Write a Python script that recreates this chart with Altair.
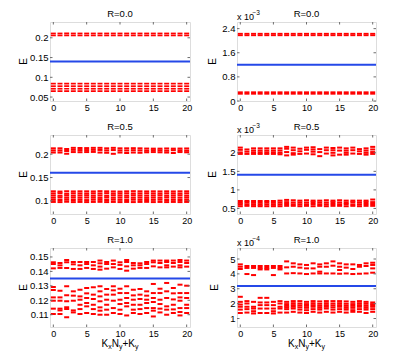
import altair as alt
import pandas as pd

FONT = "Liberation Sans, Arial, Helvetica, sans-serif"
RED = "#ff0000"
BLUE_C = "#2548e8"
FRAME = "#6e6e6e"

K = list(range(21))
XTICKS = [0, 5, 10, 15, 20]

# Panel 1 (R=0.0): same levels at every k
P1_LEVELS = [0.211, 0.206, 0.084, 0.0775, 0.071, 0.065]
# Panel 2 (R=0.0), units of 1e-3
P2_LEVELS = [2.23, 2.18, 0.29, 0.24]

# Panel 3 (R=0.5): rows of levels across k
P3_ROWS = [
    [0.2125,0.2125,0.2112,0.2135,0.2132,0.2130,0.2135,0.2135,0.2125,0.2135,0.2125,0.2125,0.2128,0.2125,0.2120,0.2118,0.2118,0.2122,0.2118,0.2120,0.2122],
    [0.2080,0.2080,0.2068,0.2092,0.2088,0.2088,0.2092,0.2090,0.2080,0.2088,0.2080,0.2078,0.2085,0.2080,0.2075,0.2085,0.2080,0.2075,0.2085,0.2080,0.2075],
    [0.2035,0.2035,0.2010,0.2045,0.2042,0.2045,0.2048,0.2035,0.2030,0.2008,0.2035,0.2025,0.2035,0.2030,0.2040,0.2045,0.2040,0.2035,0.2025,0.2045,0.2040],
    [0.1205,0.1200,0.1208,0.1203,0.1205,0.1205,0.1203,0.1208,0.1205,0.1203,0.1200,0.1205,0.1208,0.1205,0.1203,0.1205,0.1203,0.1205,0.1203,0.1205,0.1205],
    [0.1160,0.1165,0.1155,0.1162,0.1160,0.1158,0.1162,0.1160,0.1165,0.1158,0.1160,0.1162,0.1158,0.1160,0.1162,0.1160,0.1158,0.1162,0.1160,0.1158,0.1162],
    [0.1115,0.1110,0.1118,0.1112,0.1115,0.1118,0.1112,0.1115,0.1110,0.1118,0.1115,0.1112,0.1118,0.1115,0.1112,0.1115,0.1118,0.1112,0.1115,0.1118,0.1112],
    [0.1068,0.1072,0.1065,0.1070,0.1068,0.1072,0.1070,0.1065,0.1072,0.1068,0.1070,0.1072,0.1068,0.1070,0.1065,0.1070,0.1068,0.1072,0.1070,0.1068,0.1070],
    [0.1022,0.1020,0.1025,0.1020,0.1022,0.1018,0.1025,0.1022,0.1020,0.1025,0.1022,0.1020,0.1025,0.1022,0.1020,0.1022,0.1025,0.1020,0.1022,0.1020,0.1022],
    [0.0978,0.0975,0.0980,0.0975,0.0978,0.0975,0.0978,0.0980,0.0975,0.0978,0.0975,0.0978,0.0975,0.0978,0.0980,0.0975,0.0978,0.0975,0.0978,0.0975,0.0978],
]

# Panel 4 (R=0.5), units of 1e-3: upper levels per k, lower rows across k
P4_TOP = [
    [2.14,2.08,2.01,1.97],[2.09,2.03,1.97],[2.12,2.06,2.01,1.97],[2.12,2.06,2.01,1.97],
    [2.12,2.06,2.01,1.97],[2.12,2.06,2.01,1.97],[2.12,2.06,2.00,1.96],[2.16,2.11,2.02,1.93],
    [2.14,2.07,1.99,1.95],[2.11,2.04,1.97],[2.14,2.08,1.98],[2.15,2.09,2.03,1.96],
    [2.10,2.02,1.91],[2.14,2.07,1.98],[2.13,2.07,2.00,1.93],[2.14,2.06,1.95],
    [2.12,2.06,2.00,1.95],[2.14,2.07,1.98],[2.10,2.04,1.97],[2.12,2.06,2.00,1.95],
    [2.16,2.09,2.02,1.97],
]
P4_BOTTOM_ROWS = [
    [0.70,0.70,0.70,0.70,0.70,0.70,0.71,0.73,0.72,0.71,0.72,0.71,0.71,0.72,0.71,0.72,0.71,0.71,0.71,0.71,0.74],
    [0.65,0.66,0.65,0.65,0.66,0.65,0.66,0.67,0.66,0.66,0.66,0.67,0.66,0.66,0.67,0.66,0.66,0.67,0.66,0.67,0.67],
    [0.61,0.61,0.60,0.60,0.61,0.60,0.61,0.62,0.61,0.61,0.61,0.62,0.61,0.61,0.62,0.61,0.62,0.61,0.61,0.62,0.62],
    [0.56,0.57,0.56,0.56,0.56,0.56,0.56,0.57,0.57,0.56,0.57,0.56,0.57,0.56,0.57,0.57,0.56,0.57,0.56,0.57,0.57],
]

# Panel 5 (R=1.0): levels per k
P5 = [
    [0.1463,0.1451,0.1421,0.1292,0.1271,0.1220,0.1197,0.1142,0.1105],
    [0.1458,0.1442,0.1424,0.1266,0.1220,0.1197,0.1142,0.1130,0.1105],
    [0.1479,0.1463,0.1424,0.1297,0.1234,0.1193,0.1151,0.1139,0.1082],
    [0.1465,0.1449,0.1417,0.1262,0.1232,0.1197,0.1130,0.1116],
    [0.1465,0.1442,0.1417,0.1273,0.1227,0.1204,0.1169,0.1139,0.1105],
    [0.1465,0.1451,0.1424,0.1285,0.1248,0.1216,0.1181,0.1158,0.1112],
    [0.1465,0.1442,0.1417,0.1290,0.1239,0.1209,0.1169,0.1139,0.1105],
    [0.1475,0.1456,0.1433,0.1412,0.1297,0.1262,0.1227,0.1193,0.1151,0.1128,0.1100],
    [0.1465,0.1451,0.1419,0.1278,0.1239,0.1204,0.1169,0.1135,0.1100],
    [0.1475,0.1451,0.1428,0.1297,0.1269,0.1239,0.1197,0.1146,0.1112],
    [0.1463,0.1445,0.1417,0.1280,0.1250,0.1204,0.1174,0.1135,0.1105],
    [0.1479,0.1465,0.1435,0.1405,0.1297,0.1250,0.1216,0.1181,0.1158,0.1095],
    [0.1458,0.1442,0.1419,0.1273,0.1234,0.1204,0.1169,0.1135,0.1112],
    [0.1456,0.1442,0.1424,0.1278,0.1239,0.1209,0.1169,0.1139,0.1105],
    [0.1465,0.1451,0.1424,0.1262,0.1232,0.1204,0.1181,0.1146,0.1112],
    [0.1475,0.1463,0.1435,0.1313,0.1250,0.1216,0.1188,0.1146,0.1128,0.1088],
    [0.1475,0.1458,0.1428,0.1280,0.1250,0.1204,0.1174,0.1142,0.1116],
    [0.1475,0.1465,0.1442,0.1428,0.1320,0.1262,0.1216,0.1158,0.1135,0.1100],
    [0.1475,0.1458,0.1433,0.1285,0.1248,0.1206,0.1169,0.1137,0.1112],
    [0.1479,0.1465,0.1442,0.1428,0.1308,0.1250,0.1220,0.1197,0.1146,0.1119,0.1095],
    [0.1475,0.1458,0.1433,0.1301,0.1250,0.1216,0.1169,0.1146,0.1112],
]

# Panel 6 (R=1.0), units of 1e-4: levels per k
P6 = [
    [4.64,4.48,4.33,2.46,2.12,1.94,1.79,1.60,1.37],
    [4.53,4.40,3.99,2.17,2.01,1.79,1.63,1.40],
    [4.53,4.40,3.92,2.12,1.79,1.67,1.49,1.34],
    [4.53,4.40,4.30,2.39,2.08,1.90,1.67,1.37],
    [4.53,4.40,4.30,2.39,2.08,1.90,1.67,1.37],
    [4.53,4.40,3.92,2.12,1.90,1.67,1.49,1.34],
    [4.53,4.40,4.30,2.17,2.01,1.79,1.67,1.40],
    [4.84,4.44,4.03,2.12,1.97,1.85,1.75,1.63,1.40],
    [4.71,4.48,4.05,2.17,2.03,1.90,1.79,1.67,1.45],
    [4.64,4.42,4.03,2.17,2.01,1.88,1.75,1.60,1.40],
    [4.60,4.37,3.99,2.12,1.97,1.85,1.72,1.56,1.37],
    [4.71,4.37,4.03,2.17,2.03,1.90,1.79,1.63,1.45],
    [4.64,4.48,4.15,4.03,2.15,1.99,1.85,1.72,1.60,1.40],
    [4.71,4.48,4.03,2.17,2.03,1.90,1.79,1.67,1.45],
    [4.84,4.55,4.03,2.17,2.01,1.88,1.75,1.60,1.40],
    [4.71,4.48,4.26,4.01,2.17,2.03,1.90,1.79,1.63,1.45],
    [4.64,4.42,4.03,2.15,1.99,1.85,1.72,1.60,1.40],
    [4.64,4.33,3.99,2.12,1.97,1.85,1.72,1.56,1.45],
    [4.60,4.48,4.01,2.17,2.03,1.90,1.79,1.63,1.45],
    [4.71,4.53,4.03,2.12,1.99,1.85,1.72,1.60,1.37],
    [4.75,4.60,4.37,4.08,2.08,1.97,1.88,1.79,1.63,1.45],
]

BLUE = [0.14, 1.2, 0.16, 1.41, 0.135, 3.18]
DOMAINS = [[0.04, 0.24], [0, 2.62], [0.072, 0.241], [0.35, 2.48], [0.1015, 0.1562], [0.43, 5.74]]
YTICKS = [[0.05, 0.1, 0.15, 0.2], [0, 0.8, 1.6, 2.4], [0.1, 0.15, 0.2],
          [0.5, 1, 1.5, 2], [0.11, 0.12, 0.13, 0.14, 0.15], [1, 2, 3, 4, 5]]
TITLES = ["R=0.0", "R=0.0", "R=0.5", "R=0.5", "R=1.0", "R=1.0"]
MULT = [None, "\u22123", None, "\u22123", None, "\u22124"]
ELABEL_X = [-26.3, -24, -26.3, -24, -26.3, -22]
THICK = [1.7, 1.8, 2, 2, 2, 2]


def frame(per_k):
    rows = []
    for k, vals in zip(K, per_k):
        for v in vals:
            rows.append({"k": k, "E": v})
    return pd.DataFrame(rows)


def from_rows(rowlist):
    return [[r[k] for r in rowlist] for k in K]


DATA = [
    frame([P1_LEVELS for _ in K]),
    frame([P2_LEVELS for _ in K]),
    frame(from_rows(P3_ROWS)),
    frame([t + b for t, b in zip(P4_TOP, from_rows(P4_BOTTOM_ROWS))]),
    frame(P5),
    frame(P6),
]

H = 79


def txt(t, x, y, size=9.5, align="left", baseline="middle", angle=0):
    return alt.Chart(pd.DataFrame({"t": [t]})).mark_text(
        align=align, baseline=baseline, fontSize=size, font=FONT, color="black", angle=angle
    ).encode(x=alt.value(x), y=alt.value(y), text="t:N")


def panel(i):
    w = 140 if i % 2 == 0 else 139
    xs = alt.X("k:Q", scale=alt.Scale(domain=[-0.5, 20.5], nice=False, zero=False),
               axis=alt.Axis(values=XTICKS, title=None, grid=False, ticks=False, domain=False,
                             labelPadding=2.5, labelFontSize=9, labelFont=FONT, labelColor="black",
                             labelFlush=False, labelOverlap=False))
    ys = alt.Y("E:Q", scale=alt.Scale(domain=DOMAINS[i], nice=False, zero=False),
               axis=alt.Axis(values=YTICKS[i], format="~g", title=None, grid=False, ticks=False,
                             domain=False, labelPadding=2, labelFontSize=9.5, labelFont=FONT,
                             labelColor="black", labelFlush=False, labelOverlap=False))
    dashes = alt.Chart(DATA[i]).mark_tick(
        orient="horizontal", color=RED, size=5, thickness=THICK[i], opacity=1
    ).encode(x=xs, y=ys)
    blue = alt.Chart(pd.DataFrame({"E": [BLUE[i]]})).mark_rule(
        color=BLUE_C, strokeWidth=2
    ).encode(y=ys)
    xt = pd.DataFrame({"k": XTICKS})
    yt = pd.DataFrame({"E": YTICKS[i]})
    tb = alt.Chart(xt).mark_rule(color=FRAME, strokeWidth=1).encode(x=xs, y=alt.value(H), y2=alt.value(H - 2.5))
    tt = alt.Chart(xt).mark_rule(color=FRAME, strokeWidth=1).encode(x=xs, y=alt.value(0), y2=alt.value(2.5))
    tl = alt.Chart(yt).mark_rule(color=FRAME, strokeWidth=1).encode(y=ys, x=alt.value(0), x2=alt.value(2.5))
    tr = alt.Chart(yt).mark_rule(color=FRAME, strokeWidth=1).encode(y=ys, x=alt.value(w), x2=alt.value(w - 2.5))
    layers = [dashes, blue, tb, tt, tl, tr,
              txt(TITLES[i], w / 2, -13.5, size=9.5, align="center", baseline="top"),
              txt("E", ELABEL_X[i], H / 2, size=10, align="center", angle=270)]
    if MULT[i]:
        layers.append(txt("x 10", 0, -5.5, size=9))
        layers.append(txt(MULT[i], 15.5, -9.5, size=6.5))
    if i >= 4:
        c = w / 2
        x0 = c - 18.5
        yb = H + 17.2
        ys_ = yb + 3
        layers += [
            txt("K", x0, yb, size=10),
            txt("x", x0 + 6.7, ys_, size=7),
            txt("N", x0 + 10.2, yb, size=10),
            txt("y", x0 + 17.4, ys_, size=7),
            txt("+K", x0 + 20.9, yb, size=10),
            txt("y", x0 + 33.4, ys_, size=7),
        ]
    return alt.layer(*layers).properties(width=w, height=H)


chart = alt.concat(
    *[panel(i) for i in range(6)],
    columns=2,
    spacing=alt.RowColnumber(row=34, column=47),
    bounds="flush",
).properties(
    padding={"left": 10, "top": 0, "right": 5, "bottom": 5}
).configure_view(stroke=FRAME, strokeWidth=1).configure(background="white")

chart.save("out.html", embed_options={"renderer": "svg", "actions": False})
